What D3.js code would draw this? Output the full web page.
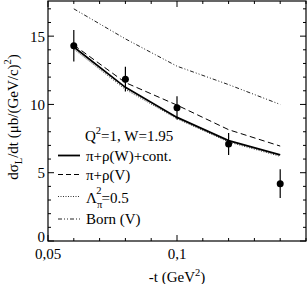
<!DOCTYPE html>
<html><head><meta charset="utf-8">
<script src="https://cdn.jsdelivr.net/npm/d3@7"></script>
<style>body{margin:0;background:#fff}svg{display:block}</style>
</head><body><svg id="c" width="307" height="284" font-family="'Liberation Serif','DejaVu Serif','Liberation Sans',Arial,sans-serif"></svg>
<script>
const tVals = [0.06, 0.08, 0.10, 0.12, 0.14];
const dataVals = [14.3, 11.85, 9.75, 7.1, 4.2];
const dataErr = [1.15, 0.9, 0.85, 0.8, 1.05];
const solidVals = [14.2, 11.25, 9.05, 7.35, 6.3];
const dashedVals = [14.35, 11.6, 9.95, 8.15, 6.95];
const dottedVals = [14.05, 11.1, 8.95, 7.25, 6.2];
const bornVals = [17.0, 14.8, 12.8, 11.45, 10.0];
const xTickLabels = ["0,05", "0,1"];
const yTickVals = [0, 5, 10, 15];
const legendLabels = ["π+ρ(W)+cont.", "π+ρ(V)", "Λ", "Born (V)"];

const FS = 15, FSS = 10.5;
const svg = d3.select("#c");
const L = 48, R = 306, T = 2, B = 241;
const x = d3.scaleLinear().domain([0.05, 0.15]).range([L, R]);
const y = d3.scaleLinear().domain([0, 17.5]).range([B, T]);

svg.append("rect").attr("x", L).attr("y", 1).attr("width", R - L).attr("height", B - 1)
  .attr("fill", "none").attr("stroke", "#000").attr("stroke-width", 1.2);

const minorX = d3.range(0.05, 0.1501, 0.01);
const majorX = [0.05, 0.1];
const minorY = d3.range(0, 17.01, 1);
const g = svg.append("g").attr("stroke", "#000").attr("stroke-width", 1);
minorX.forEach(v => {
  const isMaj = majorX.some(m => Math.abs(m - v) < 1e-6);
  const len = isMaj ? 6 : 3;
  g.append("line").attr("x1", x(v)).attr("x2", x(v)).attr("y1", B).attr("y2", B - len);
  g.append("line").attr("x1", x(v)).attr("x2", x(v)).attr("y1", 1).attr("y2", 1 + len);
});
minorY.forEach(v => {
  const isMaj = v % 5 === 0;
  const len = isMaj ? 6 : 3;
  g.append("line").attr("x1", L).attr("x2", L + len).attr("y1", y(v)).attr("y2", y(v));
  g.append("line").attr("x1", R).attr("x2", R - len).attr("y1", y(v)).attr("y2", y(v));
});

majorX.forEach((v, i) => {
  svg.append("text").attr("x", x(v)).attr("y", 259).attr("text-anchor", "middle")
    .attr("font-size", FS).text(xTickLabels[i]);
});
yTickVals.forEach(v => {
  svg.append("text").attr("x", 45).attr("y", v === 0 ? y(v) + 1 : y(v) + 5.5).attr("text-anchor", "end")
    .attr("font-size", FS).text(v);
});

const xt = svg.append("text").attr("x", 177).attr("y", 282).attr("text-anchor", "middle").attr("font-size", FS);
xt.append("tspan").text("-t (GeV");
xt.append("tspan").attr("dy", -6).attr("font-size", FSS).text("2");
xt.append("tspan").attr("dy", 6).text(")");

const yt = svg.append("text").attr("transform", "translate(18,117) rotate(-90)").attr("text-anchor", "middle").attr("font-size", FS);
yt.append("tspan").text("dσ");
yt.append("tspan").attr("dy", 4).attr("font-size", FSS).text("L");
yt.append("tspan").attr("dy", -4).text("/dt (μb/(GeV/c)");
yt.append("tspan").attr("dy", -7).attr("font-size", FSS).text("2");
yt.append("tspan").attr("dy", 7).text(")");

const line = d3.line().x((d, i) => x(tVals[i])).y(d => y(d));
const styles = [
  {vals: bornVals, w: 1, dash: "4,2,1,2,1,2", col: "#222"},
  {vals: dottedVals, w: 1, dash: "1,1.5", col: "#333"},
  {vals: dashedVals, w: 1, dash: "6,3.5", col: "#000"},
  {vals: solidVals, w: 1.8, dash: null, col: "#000"}
];
styles.forEach(s => {
  svg.append("path").attr("d", line(s.vals)).attr("fill", "none")
    .attr("stroke", s.col).attr("stroke-width", s.w).attr("stroke-dasharray", s.dash);
});

tVals.forEach((t, i) => {
  svg.append("line").attr("x1", x(t)).attr("x2", x(t))
    .attr("y1", y(dataVals[i] - dataErr[i])).attr("y2", y(dataVals[i] + dataErr[i]))
    .attr("stroke", "#000").attr("stroke-width", 1.2);
  svg.append("circle").attr("cx", x(t)).attr("cy", y(dataVals[i])).attr("r", 3.5).attr("fill", "#000");
});

const q = svg.append("text").attr("x", 85).attr("y", 141).attr("font-size", FS);
q.append("tspan").text("Q");
q.append("tspan").attr("dy", -7).attr("font-size", FSS).text("2");
q.append("tspan").attr("dy", 7).text("=1, W=1.95");

const legY = [155.5, 174.5, 196.5, 219];
const legStyles = [
  {w: 1.8, dash: null, col: "#000"},
  {w: 1, dash: "5,3", col: "#000"},
  {w: 1, dash: "1,1.5", col: "#333"},
  {w: 1, dash: "4,2,1,2,1,2", col: "#222"}
];
legStyles.forEach((s, i) => {
  svg.append("line").attr("x1", 58).attr("x2", 80).attr("y1", legY[i]).attr("y2", legY[i])
    .attr("stroke", s.col).attr("stroke-width", s.w).attr("stroke-dasharray", s.dash);
});
svg.append("text").attr("x", 86).attr("y", 160.5).attr("font-size", FS).text(legendLabels[0]);
svg.append("text").attr("x", 86).attr("y", 179.5).attr("font-size", FS).text(legendLabels[1]);
const lam = svg.append("text").attr("x", 86).attr("y", 203).attr("font-size", FS);
lam.append("tspan").text(legendLabels[2]);
lam.append("tspan").attr("dy", 5).attr("font-size", FSS).text("π");
lam.append("tspan").attr("dx", -6).attr("dy", -14).attr("font-size", FSS).text("2");
lam.append("tspan").attr("dy", 9).text("=0.5");
svg.append("text").attr("x", 86).attr("y", 224).attr("font-size", FS).text(legendLabels[3]);
</script></body></html>
